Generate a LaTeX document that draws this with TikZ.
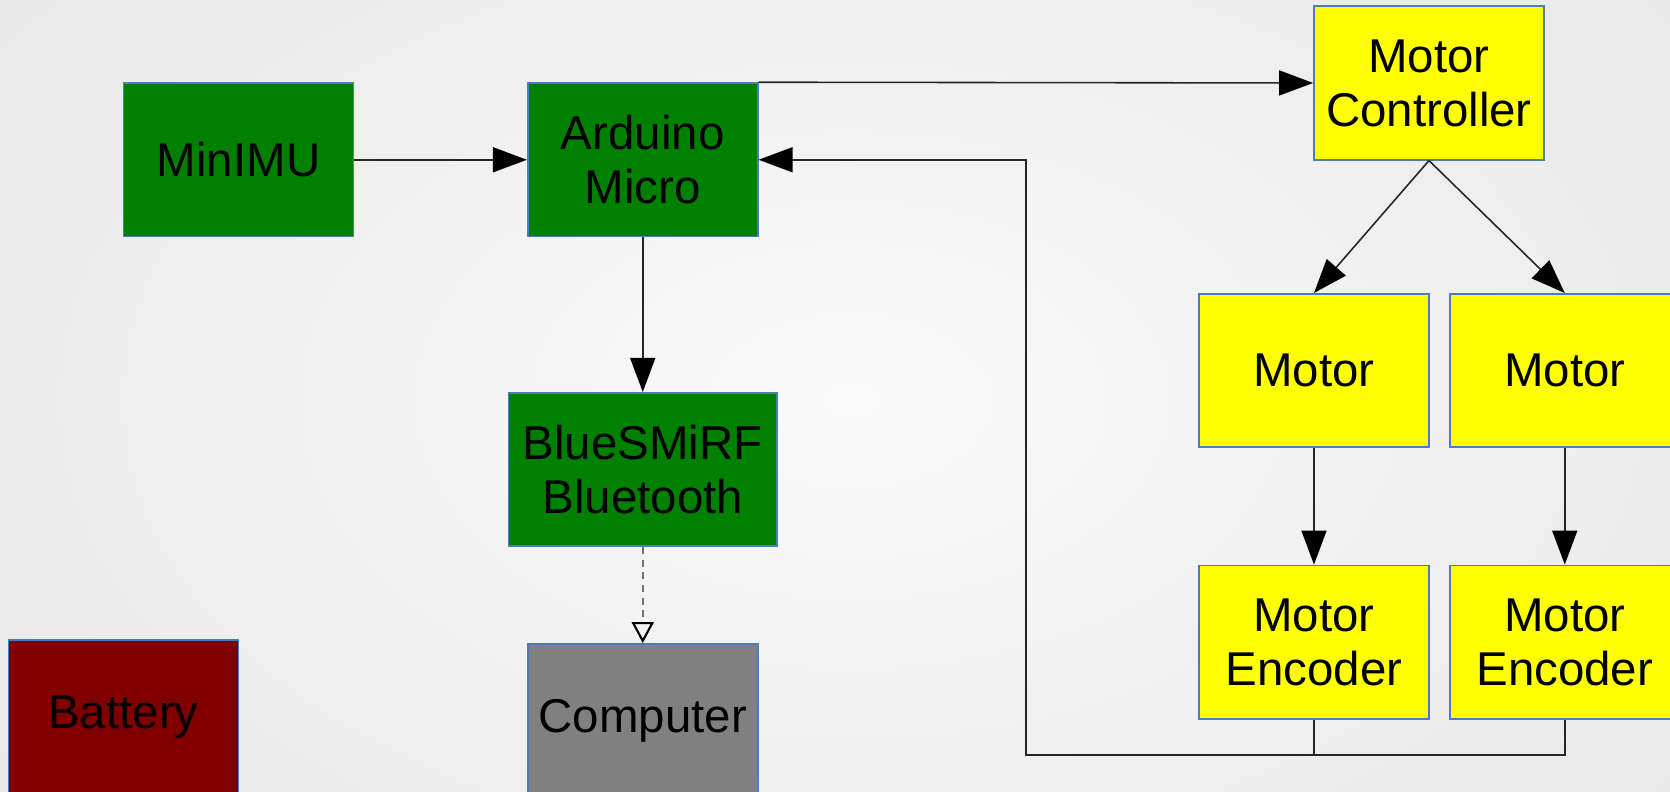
\documentclass[tikz,border=0pt]{standalone}
\usepackage{fontspec}
\setmainfont{Liberation Sans}
\usetikzlibrary{arrows.meta,positioning}

\definecolor{boxline}{RGB}{74,126,187}
\definecolor{boardgreen}{RGB}{0,128,0}
\definecolor{battred}{RGB}{128,0,0}
\definecolor{pcgray}{RGB}{128,128,128}
\definecolor{motoryellow}{RGB}{255,255,0}

\begin{document}
\begin{tikzpicture}[
    every node/.style={font=\fontsize{13.5pt}{15.4pt}\selectfont, align=center},
    block/.style={rectangle, draw=boxline, line width=0.5pt, minimum width=2.30cm, minimum height=1.534cm, inner sep=0pt},
    board/.style={block, fill=boardgreen},
    motorbox/.style={block, fill=motoryellow},
    arrow/.style={-{Triangle[length=0.34cm, width=0.25cm, color=black]}, draw=black!85, line width=0.45pt},
    wireless/.style={-{Triangle[open, length=0.21cm, width=0.22cm, color=black]}, draw=black!55, dash pattern=on 2pt off 1.6pt, line width=0.6pt}
]
    \useasboundingbox (0,0) rectangle (16.7,-7.92);
    \shade[inner color=gray!4, outer color=gray!18] (-2,2.5) rectangle (19,-10.5);

    \node (minimu) [board] at (2.386,-1.598) {MinIMU};
    \node (arduino) [board, right=1.724cm of minimu] {Arduino\\Micro};
    \node (bluesmirf) [board, minimum width=2.684cm, below=1.546cm of arduino] {BlueSMiRF\\Bluetooth};
    \node (computer) [block, fill=pcgray, below=0.96cm of bluesmirf] {Computer};
    \node (battery) [block, fill=battred] at (1.235,-7.168) {Battery};

    \node (mc) [motorbox] at (14.29,-0.83) {Motor\\Controller};
    \node (motorL) [motorbox] at (13.14,-3.706) {Motor};
    \node (motorR) [motorbox, right=0.19cm of motorL] {Motor};
    \node (encL) [motorbox, below=1.164cm of motorL] {Motor\\Encoder};
    \node (encR) [motorbox, below=1.164cm of motorR] {Motor\\Encoder};
    \coordinate (bus) at (10.26,-7.55);

    \draw [arrow] (minimu) -- (arduino);
    \draw [arrow] (arduino.north east) -- (mc.west);
    \draw [arrow] (arduino) -- (bluesmirf);
    \draw [wireless] (bluesmirf) -- (computer);
    \draw [arrow] (mc.south) -- (motorL.north);
    \draw [arrow] (mc.south) -- (motorR.north);
    \draw [arrow] (motorL) -- (encL);
    \draw [arrow] (motorR) -- (encR);
    \draw [draw=black!85, line width=0.45pt] (encL.south) -- (encL.south |- bus);
    \draw [arrow] (encR.south) |- (bus) |- (arduino.east);
\end{tikzpicture}
\end{document}
